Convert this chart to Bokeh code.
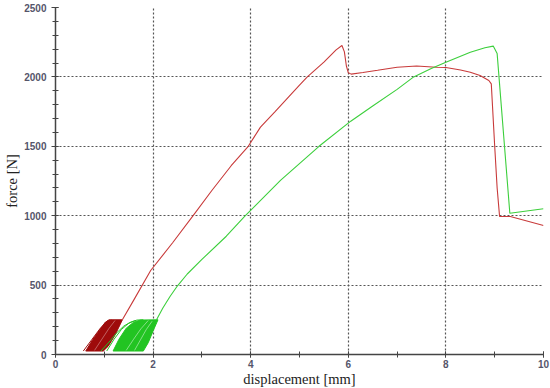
from bokeh.plotting import figure
from bokeh.models import SingleIntervalTicker, Range1d
from bokeh.embed import file_html
from bokeh.resources import INLINE

# ---- data ----
# main loading curves after cyclic pre-loading
red_x = [1.37, 1.60, 1.95, 2.40, 2.82, 3.20, 3.60, 3.95, 4.20, 4.50, 5.00, 5.16, 5.50, 5.75, 5.87, 5.92,
         5.96, 6.00, 6.06, 6.30, 6.60, 7.00, 7.40, 7.80, 8.00, 8.30, 8.50, 8.70, 8.88, 8.93, 9.00, 9.05,
         9.10, 9.32, 10.00]
red_f = [250, 390, 605, 805, 1000, 1180, 1360, 1500, 1638, 1750, 1940, 2000, 2106, 2195, 2226, 2180,
         2080, 2030, 2020, 2032, 2048, 2070, 2078, 2070, 2068, 2050, 2034, 2010, 1974, 1950, 1500, 1200,
         994, 994, 929]

green_x = [2.07, 2.20, 2.35, 2.50, 2.70, 3.00, 3.50, 3.89, 4.61, 5.40, 6.05, 6.50, 7.00, 7.34, 7.70,
           8.00, 8.50, 8.80, 8.97, 9.05, 9.31, 10.00]
green_f = [250, 335, 420, 495, 580, 685, 852, 1000, 1254, 1500, 1681, 1790, 1910, 2000, 2060,
           2106, 2178, 2210, 2222, 2168, 1018, 1050]

# cyclic pre-loading regions (outline of the dense hysteresis loops)
red_band_x = [0.62, 0.75, 0.90, 1.02, 1.10, 1.37, 1.22, 1.08, 0.98]
red_band_f = [25, 100, 175, 232, 250, 250, 140, 60, 25]
red_first_x = [0.57, 0.75, 0.92, 1.09]
red_first_f = [25, 110, 190, 250]
red_second_x = [0.66, 0.82, 0.98, 1.14]
red_second_f = [25, 105, 185, 250]
red_streak_x = [0.80, 0.95, 1.10, 1.22]
red_streak_f = [30, 110, 190, 245]

green_band_x = [1.18, 1.30, 1.45, 1.60, 1.74, 2.10, 2.00, 1.90, 1.80]
green_band_f = [25, 110, 190, 232, 248, 250, 170, 85, 25]
green_first_x = [0.93, 1.10, 1.25, 1.40, 1.55, 1.67, 1.80]
green_first_f = [25, 90, 155, 205, 235, 248, 250]
green_second_x = [1.05, 1.20, 1.35, 1.50, 1.65]
green_second_f = [25, 110, 180, 225, 246]
green_streak_x = [1.45, 1.60, 1.75, 1.90]
green_streak_f = [30, 110, 185, 245]
green_streak2_x = [1.62, 1.74, 1.86, 1.98]
green_streak2_f = [30, 105, 180, 240]

x_ticks_interval = 2
y_ticks_interval = 500

# ---- figure ----
p = figure(frame_width=488, frame_height=347, output_backend="svg", toolbar_location=None,
           x_range=Range1d(0, 10), y_range=Range1d(0, 2500),
           min_border_left=55, min_border_right=7, min_border_top=7, min_border_bottom=32)
p.outline_line_color = None
p.background_fill_color = "white"
p.border_fill_color = "white"

# bands
p.patch(red_band_x, red_band_f, fill_color="#9e0b0b", line_color="#9e0b0b", line_width=1)
p.line(red_first_x, red_first_f, line_color="#9e0b0b", line_width=1)
p.line(red_second_x, red_second_f, line_color="#9e0b0b", line_width=1)
p.line(red_streak_x, red_streak_f, line_color="white", line_alpha=0.35, line_width=1)
p.line(green_first_x, green_first_f, line_color="#22c422", line_width=1)
p.line(green_second_x, green_second_f, line_color="#22c422", line_width=1)
p.patch(green_band_x, green_band_f, fill_color="#22c422", line_color="#22c422", line_width=1)
p.line(green_streak_x, green_streak_f, line_color="white", line_alpha=0.45, line_width=1)
p.line(green_streak2_x, green_streak2_f, line_color="white", line_alpha=0.45, line_width=1)

# main curves
p.line(red_x, red_f, line_color="#c83a3a", line_width=1.1)
p.line(green_x, green_f, line_color="#3ccf3c", line_width=1.1)

# axes
p.xaxis.ticker = SingleIntervalTicker(interval=x_ticks_interval, num_minor_ticks=2)
p.yaxis.ticker = SingleIntervalTicker(interval=y_ticks_interval, num_minor_ticks=5)
for ax in (p.xaxis[0], p.yaxis[0]):
    ax.axis_line_color = "#444444"
    ax.axis_line_width = 1.5
    ax.major_tick_line_color = "#444444"
    ax.minor_tick_line_color = "#444444"
    ax.major_tick_in = 3
    ax.major_tick_out = 4
    ax.minor_tick_in = 3
    ax.minor_tick_out = 3
    ax.major_label_text_font = "Liberation Sans"
    ax.major_label_text_font_style = "bold"
    ax.major_label_text_font_size = "10px"
    ax.major_label_text_color = "#55556a"
    ax.axis_label_text_font = "Liberation Serif"
    ax.axis_label_text_font_style = "normal"
    ax.axis_label_text_font_size = "14.5px"
    ax.axis_label_text_color = "#222222"
p.xaxis.axis_label = "displacement [mm]"
p.yaxis.axis_label = "force [N]"
p.xaxis.major_tick_out = 3
p.xaxis.major_label_standoff = 2
p.xaxis.axis_label_standoff = 0
p.yaxis.major_label_standoff = 5
p.yaxis.axis_label_standoff = 1

# grid
for g in (p.xgrid[0], p.ygrid[0]):
    g.grid_line_color = "#555555"
    g.grid_line_dash = "2 2"
    g.grid_line_width = 1.2

open("out.html", "w").write(file_html(p, INLINE))
